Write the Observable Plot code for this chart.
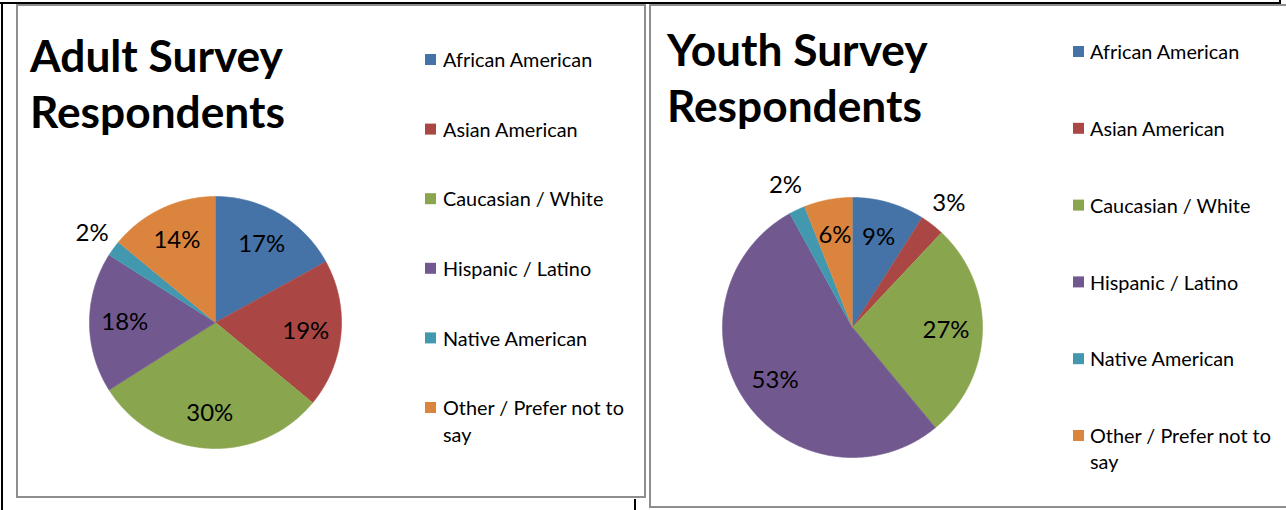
<!DOCTYPE html>
<html><head><meta charset="utf-8">
<script src="https://cdn.jsdelivr.net/npm/d3@7"></script>
<script src="https://cdn.jsdelivr.net/npm/@observablehq/plot@0.6"></script>
<style>
body{margin:0;background:#fff;}
#root{position:relative;width:1286px;height:510px;overflow:hidden;}
#root svg{position:absolute;}
</style></head><body><div id="root"></div>
<script>
// ---- data ----
const categories = ["African American","Asian American","Caucasian / White","Hispanic / Latino","Native American","Other / Prefer not to say"];
const colors = ["#4572A7","#AA4643","#89A54E","#71588F","#4198AF","#DB843D"];
const adultValues = [17,19,30,18,2,14];
const youthValues = [9,3,27,53,2,6];
const adultTitle = ["Adult Survey","Respondents"];
const youthTitle = ["Youth Survey","Respondents"];

// ---- layout ----
const FAMILY = "Lato, 'Open Sans', sans-serif";
const ctx = document.createElement("canvas").getContext("2d");
function fit(text, target, weight){ ctx.font = `${weight} 100px ${FAMILY}`; return 100*target/ctx.measureText(text).width; }
const titleFS = fit("Adult Survey", 253, 700);
const legendFS = fit("African American", 150, 400);
const labelFS = fit("17%", 47, 400);

const panels = [
  {values: adultValues, title: adultTitle, box:[16,4,630,494], cx:215, cy:322, r:126,
   titleX:30, titleY:[72,128], sqX:425, textX:443, rowY0:60, rowStep:69.6, lh:27},
  {values: youthValues, title: youthTitle, box:[649,4,660,504], cx:852, cy:327, r:130,
   titleX:667, titleY:[66,122], sqX:1073, textX:1090, rowY0:52, rowStep:76.8, lh:26}
];

const root = document.getElementById("root");

function piePlot(p){
  const arcs = d3.pie().sort(null).value(d => d)(p.values);
  const pts = [];
  arcs.forEach((a, i) => {
    const n = Math.max(2, Math.ceil((a.endAngle - a.startAngle) / (Math.PI/360)));
    pts.push({category: categories[i], x: 0, y: 0});
    for (let k = 0; k <= n; k++) {
      const t = a.startAngle + (a.endAngle - a.startAngle) * k / n;
      pts.push({category: categories[i], x: Math.sin(t), y: Math.cos(t)});
    }
  });
  const labels = arcs.map((a, i) => {
    const m = (a.startAngle + a.endAngle) / 2;
    const k = p.values[i] < 4 ? 1.21 : 0.72;
    return {text: p.values[i] + "%", x: k*Math.sin(m), y: k*Math.cos(m)};
  });
  const s = 1.5, H = p.r * s;
  const chart = Plot.plot({
    width: 2*H, height: 2*H, margin: 0,
    x: {domain: [-s, s], axis: null},
    y: {domain: [-s, s], axis: null},
    color: {domain: categories, range: colors},
    style: {background: "none", fontFamily: FAMILY, overflow: "visible"},
    marks: [
      Plot.line(pts, {x: "x", y: "y", z: "category", fill: "category", stroke: "category", strokeWidth: 0.6, curve: "linear"}),
      Plot.text(labels, {x: "x", y: "y", text: "text", fill: "#000", fontSize: labelFS})
    ]
  });
  chart.style.left = (p.cx - H) + "px";
  chart.style.top = (p.cy - H) + "px";
  chart.style.maxWidth = "none";
  root.appendChild(chart);
}

function wrap(text, maxW){
  ctx.font = `400 ${legendFS}px ${FAMILY}`;
  const words = text.split(" "); const lines = []; let cur = "";
  for (const w of words) {
    const t = cur ? cur + " " + w : w;
    if (ctx.measureText(t).width > maxW && cur) { lines.push(cur); cur = w; } else cur = t;
  }
  lines.push(cur); return lines;
}

panels.forEach(piePlot);

const ov = d3.create("svg").attr("width", 1286).attr("height", 510).style("left", "0px").style("top", "0px");
// frames
panels.forEach(p => {
  ov.append("rect").attr("x", p.box[0]+1).attr("y", p.box[1]+1).attr("width", p.box[2]-2).attr("height", p.box[3]-2)
    .attr("fill", "none").attr("stroke", "#8e8e8e").attr("stroke-width", 2);
});
ov.append("rect").attr("x", 0).attr("y", 2).attr("width", 1281).attr("height", 2).attr("fill", "#000");
ov.append("rect").attr("x", 1).attr("y", 2).attr("width", 2).attr("height", 508).attr("fill", "#000");
ov.append("rect").attr("x", 1279).attr("y", 0).attr("width", 2).attr("height", 4).attr("fill", "#000");
ov.append("rect").attr("x", 634).attr("y", 499).attr("width", 2).attr("height", 11).attr("fill", "#000");

panels.forEach(p => {
  p.title.forEach((t, j) => {
    ov.append("text").attr("x", p.titleX).attr("y", p.titleY[j]).text(t)
      .attr("font-family", FAMILY).attr("font-weight", 700).attr("font-size", titleFS).attr("fill", "#000");
  });
  categories.forEach((c, i) => {
    const y = p.rowY0 + i * p.rowStep;
    ov.append("rect").attr("x", p.sqX).attr("y", y - 6).attr("width", 11).attr("height", 11).attr("fill", colors[i]);
    wrap(c, 190).forEach((line, j) => {
      ov.append("text").attr("x", p.textX).attr("y", y + j * p.lh).attr("dy", "0.36em").text(line)
        .attr("font-family", FAMILY).attr("font-size", legendFS).attr("fill", "#000");
    });
  });
});
root.appendChild(ov.node());
</script></body></html>
